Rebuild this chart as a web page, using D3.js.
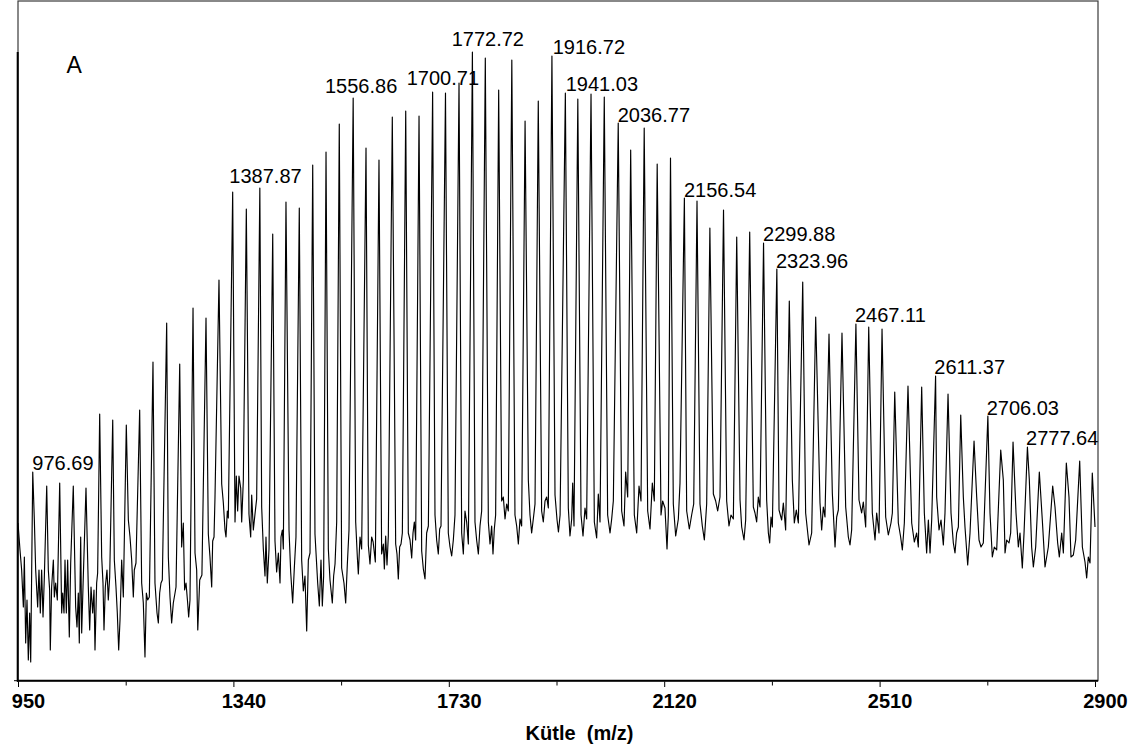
<!DOCTYPE html>
<html>
<head>
<meta charset="utf-8">
<script src="https://cdn.jsdelivr.net/npm/d3@7"></script>
<style>
  html, body { margin: 0; padding: 0; background: #fff; }
  svg { display: block; font-family: "Liberation Sans", Arial, Helvetica, sans-serif; }
</style>
</head>
<body>
<svg id="chart" width="1136" height="751"></svg>
<script>
// Peak apexes of the oligomer series: m/z and intensity (arbitrary units)
const peakMz = [
  976.69, 1002.0, 1025.5, 1050.1, 1073.1, 1097.9, 1121.5, 1146.1, 1170.3, 1194.4,
  1219.2, 1242.8, 1266.9, 1290.4, 1313.9, 1338.7, 1363.4, 1387.87, 1411.2, 1435.2,
  1459.3, 1483.6, 1507.7, 1531.7, 1556.86, 1580.1, 1603.6, 1627.7, 1652.0, 1676.1,
  1700.71, 1724.0, 1748.5, 1772.72, 1796.1, 1820.3, 1844.1, 1868.1, 1892.0, 1916.72,
  1941.03, 1963.6, 1987.5, 2011.5, 2036.77, 2059.3, 2083.8, 2107.3, 2131.4, 2156.54,
  2179.4, 2202.7, 2227.4, 2251.3, 2274.8, 2299.88, 2323.96, 2346.5, 2370.8, 2394.3,
  2418.4, 2441.9, 2467.11, 2490.3, 2514.4, 2537.4, 2561.4, 2586.2, 2611.37, 2633.9,
  2656.9, 2681.0, 2706.03, 2729.3, 2751.6, 2777.64, 2799.2, 2823.4, 2848.1, 2872.3,
  2895.1
];
const peakIntensity = [
  208, 194, 197, 194, 192, 266, 260, 255, 270, 318,
  357, 316, 372, 362, 400, 488, 471, 492, 446, 478,
  472, 515, 528, 556, 582, 532, 520, 563, 569, 564,
  588, 587, 597, 628, 622, 590, 620, 559, 579, 624,
  587, 581, 586, 583, 557, 530, 552, 516, 522, 482,
  479, 452, 470, 443, 448, 437, 411, 379, 398, 363,
  346, 347, 356, 353, 351, 288, 294, 293, 304, 286,
  265, 239, 264, 230, 238, 233, 208, 194, 217, 219,
  207
];

// Baseline / noise points between the peaks: [m/z, intensity]
const baseline = [
  [950,157],[953.6,130],[956.6,110],[959.7,73],[961.5,123],[963.9,37],[966.3,80],[968.7,20],[971.1,67],[973,18],
  [979.6,160],[982,110],[985.6,73],[988,110],[990.4,67],[992.8,110],[995.3,63],[997.7,103],
  [1004.9,110],[1007.3,90],[1008.5,30],[1010.9,93],[1014,120],[1015.8,83],[1018.2,97],[1021.2,80],
  [1029.1,67],[1030.9,87],[1033.3,67],[1035.1,120],[1037.5,67],[1039.9,120],[1042.9,43],[1045.4,117],
  [1054.4,73],[1056.8,53],[1059.2,87],[1061,37],[1063.5,143],[1065.3,47],[1067.7,93],
  [1077.3,93],[1079.8,50],[1082.2,93],[1085.2,67],[1087.6,90],[1089.4,30],[1092.4,97],[1094.2,107],
  [1101.5,123],[1103.9,97],[1105.7,50],[1108.1,93],[1111.1,110],[1113.5,80],[1116,103],
  [1124.4,120],[1127.4,93],[1129.8,67],[1132.3,30],[1134.7,60],[1137.7,120],[1140.7,83],
  [1149.8,160],[1152.8,143],[1155.8,120],[1158.8,83],[1160.6,110],[1163.6,117],
  [1173.9,97],[1176.9,77],[1179.9,23],[1182.4,87],[1184.8,80],[1187.8,83],
  [1198,97],[1201.7,67],[1204.1,57],[1206.5,87],[1208.9,97],[1211.3,100],
  [1222.2,123],[1225.2,83],[1228.2,57],[1231.2,77],[1234.3,87],[1236.1,93],
  [1246.3,133],[1249.3,157],[1251.7,90],[1254.2,97],[1257.2,77],[1259,63],[1261.4,80],
  [1270.5,127],[1273.5,110],[1275.5,50],[1279,100],[1283,105],
  [1294.6,146],[1297.6,123],[1300.7,93],[1302.5,139],[1304.9,143],[1306.6,181],
  [1318.8,196],[1321.8,177],[1324.8,150],[1326.6,143],[1329,169],[1330.8,162],
  [1342.9,158],[1345.3,204],[1347.7,169],[1350.1,204],[1353.2,192],[1355,158],[1358,200],
  [1368.2,166],[1371.3,143],[1373.1,185],[1376.1,150],[1379.1,166],[1382.1,181],
  [1391.2,173],[1394.2,131],[1397.2,104],[1399,143],[1401.4,97],[1404.5,131],
  [1415.3,139],[1418.3,108],[1421.4,127],[1424.4,97],[1426.2,143],[1428.6,150],[1430.4,131],
  [1440.7,150],[1443.7,108],[1447.3,77],[1450.3,112],[1453.3,143],
  [1463.6,120],[1466.6,89],[1469.6,104],[1472.7,49],[1475.7,120],[1478.7,127],
  [1487.7,146],[1492.6,97],[1495.6,74],[1498.6,120],[1501,74],[1503.4,104],
  [1511.9,131],[1514.9,100],[1519.1,77],[1521.5,104],[1524,116],[1527,158],
  [1536,112],[1540.2,97],[1543.3,77],[1546.3,116],[1549.3,150],
  [1561.4,158],[1564.4,123],[1566.2,106],[1569.2,143],[1572.2,131],
  [1584.3,135],[1587.3,116],[1590.3,143],[1593,138],[1597,118],
  [1608.4,126],[1611.5,136],[1613.3,111],[1615.7,144],[1618.1,115],[1620.5,144],
  [1633.8,136],[1636.2,126],[1638.6,101],[1641,133],[1643.5,136],[1645.9,147],
  [1656.7,147],[1659.8,140],[1662.8,122],[1665.2,147],[1667.6,158],[1670,140],
  [1680.9,129],[1683.9,111],[1686.9,101],[1689.9,147],[1693,154],
  [1705,165],[1708,140],[1711,126],[1713.5,151],[1715.9,154],
  [1729.1,147],[1732.2,133],[1735.2,124],[1738.2,140],[1741.2,165],
  [1753.3,147],[1756.3,126],[1759.3,169],[1762.3,158],[1765.4,136],
  [1777.4,158],[1780.4,140],[1783.5,126],[1786.5,154],[1789.5,169],
  [1801.6,158],[1804.6,136],[1807.6,154],[1810,126],[1812.4,151],[1814.8,165],
  [1825.7,179],[1828.7,183],[1831.8,161],[1834.8,176],[1837.8,169],
  [1849.8,165],[1852.9,154],[1855.9,136],[1858.9,161],[1861.9,154],
  [1874,200],[1877,165],[1880,147],[1883,161],[1886.1,176],
  [1898.1,169],[1901.1,158],[1904.2,179],[1907.2,183],[1910.2,172],
  [1922.3,185],[1926,160],[1928.5,148],[1931.5,165],
  [1946.4,172],[1949.4,144],[1952.5,161],[1954.3,197],[1956.7,154],
  [1969.4,165],[1973,144],[1976.6,172],[1979.6,161],
  [1993.5,158],[1997.7,142],[2000.7,186],[2003.8,158],
  [2017.6,165],[2021.9,147],[2024.9,161],[2027.9,179],
  [2043,169],[2047.2,154],[2050.2,208],[2053.9,183],
  [2065.9,165],[2070.2,147],[2074.4,194],[2078,179],
  [2090.1,169],[2094.3,151],[2098.5,197],[2102.1,179],
  [2114.2,165],[2117.2,179],[2121.4,172],[2125.1,131],[2127.5,165],
  [2136.5,176],[2140.8,144],[2145.6,161],[2148.6,197],
  [2160.7,169],[2165.5,151],[2169.7,165],[2173.4,176],
  [2184.8,176],[2189,154],[2192.7,140],[2196.9,176],
  [2209,186],[2213.2,179],[2216.8,169],[2221,183],
  [2233.1,179],[2237.3,154],[2240.9,165],[2245.2,161],
  [2257.3,180],[2260.3,153],[2264.5,140],[2267.5,160],
  [2281.4,173],[2284.4,167],[2287.4,158],[2290.4,183],[2293.5,173],
  [2305.5,180],[2308.6,147],[2311,137],[2313.4,163],[2315.8,153],
  [2327.9,170],[2332.7,160],[2335.7,177],[2339.9,150],
  [2352,200],[2355.6,157],[2359.2,170],[2362.9,157],
  [2376.1,167],[2382.2,135],[2387,147],
  [2402.1,177],[2405.1,150],[2408.1,173],[2411.1,163],
  [2424.4,187],[2429.3,133],[2432.3,163],[2435.3,170],
  [2448.6,173],[2453.4,143],[2456.4,135],[2459.4,150],
  [2472.7,180],[2477.5,167],[2480.5,178],[2484.8,153],
  [2496.8,167],[2501.7,140],[2504.7,167],[2508.9,147],
  [2521,163],[2525.8,145],[2530.6,157],[2533.1,167],
  [2543.9,157],[2548.1,143],[2551.2,130],[2554.8,157],
  [2568.1,157],[2572.9,138],[2577.1,147],[2580.1,133],
  [2591,167],[2595.2,127],[2598.3,160],[2601.3,127],[2604.3,160],
  [2613.3,183],[2617.6,150],[2621.2,160],[2625.4,135],[2628.4,167],
  [2639.3,167],[2643.5,137],[2646.5,127],[2649.5,147],[2652.6,153],
  [2661.6,183],[2664.6,153],[2669.5,115],[2673.7,147],
  [2685.8,183],[2690,140],[2693.6,133],[2697.8,137],
  [2709.9,167],[2714.1,123],[2717.7,133],[2722,130],
  [2734,200],[2737.1,127],[2740.1,140],[2744.3,137],[2747.3,147],
  [2757,167],[2761.2,133],[2764.2,147],[2768.4,112],[2771.5,147],
  [2781.1,200],[2785.3,133],[2788.4,113],[2792.6,133],
  [2804.6,160],[2809.5,113],[2812.5,123],[2815.5,133],
  [2827.6,173],[2832.4,137],[2835.4,123],[2839.7,147],[2842.7,127],
  [2852.9,183],[2856.5,123],[2860.8,125],[2865,140],
  [2877.1,133],[2881.9,118],[2884.9,102],[2887.9,123],[2891,117],
  [2900,153]
];

// Annotated peaks (m/z)
const labelledPeaks = [
  976.69, 1387.87, 1556.86, 1700.71, 1772.72, 1916.72, 1941.03, 2036.77,
  2156.54, 2299.88, 2323.96, 2467.11, 2611.37, 2706.03, 2777.64
];

const xTicks = [950, 1340, 1730, 2120, 2510, 2900];
const xMinorTicks = [1145, 1535, 1925, 2315, 2705];
const xTitle = "Kütle  (m/z)";
const panelLetter = "A";

// ---- layout ----
const plotLeft = 18, plotRight = 1095, frameRight = 1098;
const plotTop = 52, plotBottom = 680;

// label placement relative to its peak apex [dx, dy] in px
const labelOffsets = [
  [-0.4, -1.7], [-30.5, -4.8], [-28.2, -4.9], [-25.9, -7.3], [-20.7, -5.7],
  [0.8, -2], [0.4, -2.1], [-0.5, -1.5], [-0.4, -1.3], [-0.5, -1.6],
  [-0.9, -1], [-0.9, -2.3], [-1.3, -2.4], [-1.2, -0.7], [-1.4, -1.7]
];

const svg = d3.select("#chart");

const x = d3.scaleLinear().domain([950, 2900]).range([plotLeft, plotRight]);
const y = d3.scaleLinear().domain([0, 628]).range([plotBottom, plotTop]);

// outer frame
svg.append("rect")
  .attr("x", 18).attr("y", 1)
  .attr("width", frameRight - 18).attr("height", plotBottom + 0.7 - 1)
  .attr("fill", "none")
  .attr("stroke", "#3a3a3a")
  .attr("stroke-width", 1.2);

// spectrum trace: peaks merged with baseline points
const peaks = peakMz.map((m, i) => [m, peakIntensity[i]]);
const trace = peaks.concat(baseline).sort((a, b) => a[0] - b[0]);

const line = d3.line()
  .x(d => x(d[0]))
  .y(d => y(d[1]));

svg.append("path")
  .datum(trace)
  .attr("fill", "none")
  .attr("stroke", "#000")
  .attr("stroke-width", 1.15)
  .attr("stroke-linejoin", "round")
  .attr("d", line);

// axis lines
svg.append("line")
  .attr("x1", 17.7).attr("x2", 17.7)
  .attr("y1", plotTop).attr("y2", plotBottom + 1.7)
  .attr("stroke", "#000").attr("stroke-width", 2);
svg.append("line")
  .attr("x1", 14).attr("x2", 17)
  .attr("y1", plotBottom + 0.7).attr("y2", plotBottom + 0.7)
  .attr("stroke", "#000").attr("stroke-width", 1);
svg.append("line")
  .attr("x1", 17).attr("x2", frameRight)
  .attr("y1", plotBottom + 0.7).attr("y2", plotBottom + 0.7)
  .attr("stroke", "#000").attr("stroke-width", 2);

// minor ticks
const minorAxis = svg.append("g")
  .attr("transform", `translate(0,${plotBottom + 1.5})`)
  .call(d3.axisBottom(x).tickValues(xMinorTicks).tickSize(4).tickFormat(""));
minorAxis.select(".domain").remove();
minorAxis.selectAll(".tick line").attr("stroke", "#000").attr("stroke-width", 1);

// major ticks + labels
const majorAxis = svg.append("g")
  .attr("transform", `translate(0,${plotBottom + 1.5})`)
  .call(d3.axisBottom(x).tickValues(xTicks).tickSize(5.5).tickFormat(d3.format("d")));
majorAxis.select(".domain").remove();
majorAxis.selectAll(".tick line").attr("stroke", "#000").attr("stroke-width", 1);
majorAxis.selectAll(".tick text")
  .attr("y", 26.5)
  .attr("dy", null)
  .attr("dx", 10)
  .attr("fill", "#000")
  .style("font-family", "'Liberation Sans', Arial, sans-serif")
  .style("font-size", "20px")
  .style("font-weight", "bold");

// axis title
svg.append("text")
  .attr("x", 579.5).attr("y", 739.5)
  .attr("text-anchor", "middle")
  .style("white-space", "pre")
  .attr("xml:space", "preserve")
  .style("font-size", "20px")
  .style("font-weight", "bold")
  .attr("fill", "#000")
  .text(xTitle);

// panel letter
svg.append("text")
  .attr("x", 66.5).attr("y", 73.3)
  .style("font-size", "23px")
  .attr("fill", "#000")
  .text(panelLetter);

// peak annotations
const peakLookup = new Map(peaks.map(p => [p[0], p[1]]));
svg.append("g")
  .selectAll("text")
  .data(labelledPeaks)
  .join("text")
  .attr("x", (m, i) => x(m) + labelOffsets[i][0])
  .attr("y", (m, i) => y(peakLookup.get(m)) + labelOffsets[i][1])
  .style("font-size", "20px")
  .attr("fill", "#000")
  .text(m => d3.format(".2f")(m));
</script>
</body>
</html>
